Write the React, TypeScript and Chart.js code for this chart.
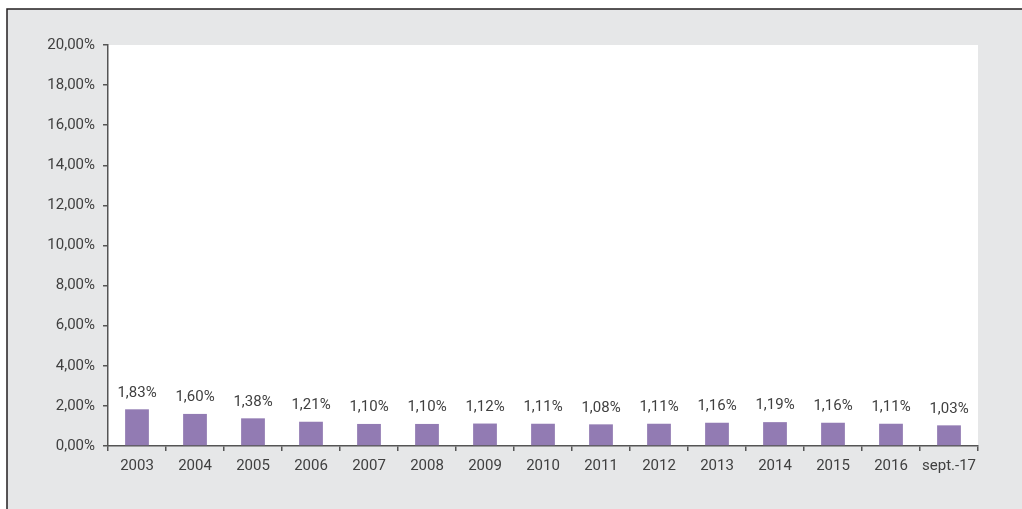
import React, { useEffect, useRef } from "react";
import { Chart, registerables } from "chart.js";

Chart.register(...registerables);

const categories = ["2003", "2004", "2005", "2006", "2007", "2008", "2009", "2010", "2011", "2012", "2013", "2014", "2015", "2016", "sept.-17"];
const rates = [1.83, 1.6, 1.38, 1.21, 1.1, 1.1, 1.12, 1.11, 1.08, 1.11, 1.16, 1.19, 1.16, 1.11, 1.03];
const yMax = 20;
const yStep = 2;

const FONT = "Roboto, 'DejaVu Sans', sans-serif";
const fmt = (v: number) => v.toFixed(2).replace(".", ",") + "%";

const bgPlugin = {
  id: "bgPlugin",
  beforeDraw(chart: any) {
    const { ctx, width, height, chartArea } = chart;
    ctx.save();
    ctx.fillStyle = "#ffffff";
    ctx.fillRect(0, 0, width, height);
    ctx.fillStyle = "#e6e7e8";
    ctx.fillRect(7, 9, width - 7, height - 9);
    ctx.strokeStyle = "#231f20";
    ctx.lineWidth = 1.5;
    ctx.beginPath();
    ctx.moveTo(7, height);
    ctx.lineTo(7, 9);
    ctx.lineTo(width, 9);
    ctx.stroke();
    ctx.fillStyle = "#ffffff";
    ctx.fillRect(chartArea.left, chartArea.top, chartArea.right - chartArea.left, chartArea.bottom - chartArea.top);
    ctx.restore();
  },
};

const labelPlugin = {
  id: "labelPlugin",
  afterDatasetsDraw(chart: any) {
    const { ctx } = chart;
    const meta = chart.getDatasetMeta(0);
    ctx.save();
    ctx.font = `15px ${FONT}`;
    ctx.fillStyle = "#404040";
    ctx.textAlign = "center";
    ctx.textBaseline = "bottom";
    meta.data.forEach((bar: any, i: number) => {
      ctx.fillText(fmt(rates[i]), bar.x, bar.y - 9);
    });
    ctx.restore();
  },
};

export default function App() {
  const ref = useRef<HTMLCanvasElement>(null);
  useEffect(() => {
    if (!ref.current) return;
    const chart = new Chart(ref.current, {
      type: "bar",
      data: {
        labels: categories,
        datasets: [
          {
            data: rates,
            backgroundColor: "#927bb3",
            barPercentage: 0.82,
            categoryPercentage: 0.5,
          },
        ],
      },
      options: {
        animation: false,
        responsive: false,
        layout: { padding: { left: 0, top: 45, right: 44, bottom: 0 } },
        plugins: { legend: { display: false }, tooltip: { enabled: false } },
        scales: {
          x: {
            offset: true,
            afterFit: (s: any) => { s.height = 63; },
            grid: { offset: true, drawOnChartArea: false, drawTicks: true, tickLength: 5, color: "#555555", lineWidth: 1.5 },
            border: { color: "#555555", width: 1.5 },
            ticks: { color: "#404040", font: { family: FONT, size: 15 }, padding: 6, maxRotation: 0, autoSkip: false },
          },
          y: {
            min: 0,
            max: yMax,
            afterFit: (s: any) => { s.width = 108; },
            grid: { drawOnChartArea: false, drawTicks: true, tickLength: 5, color: "#555555", lineWidth: 1.5 },
            border: { color: "#555555", width: 1.5 },
            ticks: {
              stepSize: yStep,
              color: "#404040",
              font: { family: FONT, size: 15 },
              padding: 8,
              callback: (v: any) => fmt(Number(v)),
            },
          },
        },
      },
      plugins: [bgPlugin, labelPlugin],
    });
    return () => chart.destroy();
  }, []);
  return (
    <div style={{ position: "fixed", left: 0, top: 0, width: 1022, height: 509 }}>
      <canvas ref={ref} width={1022} height={509} style={{ width: 1022, height: 509, display: "block" }} />
    </div>
  );
}
